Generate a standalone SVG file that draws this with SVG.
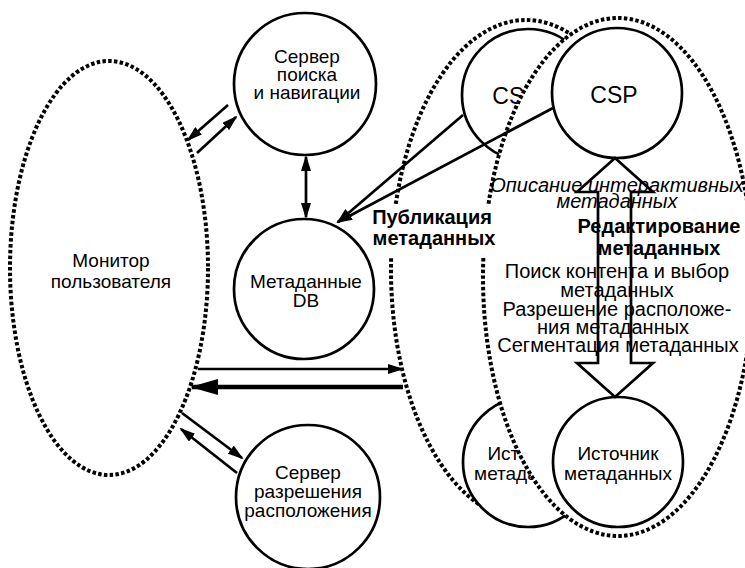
<svg xmlns="http://www.w3.org/2000/svg" width="745" height="568" viewBox="0 0 745 568">
<style>
.dot{fill:#fff;stroke:#000;stroke-width:4;stroke-dasharray:3.5 2.3}
.nd{fill:#fff;stroke:#000;stroke-width:2.7}
.ln{stroke:#000;stroke-width:2.7;fill:none}
.thick{stroke:#000;stroke-width:4.5;fill:none}
text{font-family:"Liberation Sans",Arial,sans-serif;font-size:19px;text-anchor:middle;fill:#000}
.r{font-size:20px}
.b{font-weight:bold}
.i{font-style:italic}
.big{font-size:23px}
</style>
<defs>
<marker id="ah" markerUnits="userSpaceOnUse" markerWidth="16" markerHeight="10" refX="14" refY="5" orient="auto-start-reverse">
<path d="M0,0 L16,5 L0,10 Z" fill="#000"/>
</marker>
<marker id="ahBig" markerUnits="userSpaceOnUse" markerWidth="28" markerHeight="16" refX="26" refY="8" orient="auto">
<path d="M0,0 L28,8 L0,16 Z" fill="#000"/>
</marker>
</defs>
<rect width="745" height="568" fill="#fff"/>

<g id="domain-back">
<ellipse class="dot" cx="526" cy="270" rx="135" ry="250"/>
<g id="csp-shadow">
<circle class="nd" cx="528" cy="95" r="66"/>
<text class="big" x="516" y="104">CSP</text>
</g>
<g id="source-shadow">
<circle class="nd" cx="528" cy="462" r="65"/>
<text x="528" y="460">Источник</text>
<text x="528" y="480">метаданных</text>
</g>
</g>

<g id="domain-front">
<ellipse class="dot" cx="618" cy="277" rx="135" ry="259"/>
</g>

<g id="csp">
<circle class="nd" cx="617" cy="93" r="65"/>
<text class="big" x="614" y="103">CSP</text>
</g>

<g id="source">
<circle class="nd" cx="618" cy="462" r="65"/>
<text x="618" y="460">Источник</text>
<text x="618" y="480">метаданных</text>
</g>

<g id="monitor">
<ellipse class="dot" cx="109" cy="268" rx="99" ry="207"/>
<text x="111" y="267">Монитор</text>
<text x="111" y="288">пользователя</text>
</g>

<g id="search-server">
<circle class="nd" cx="305" cy="84" r="71"/>
<text x="307" y="63">Сервер</text>
<text x="307" y="81">поиска</text>
<text x="307" y="99">и навигации</text>
</g>

<g id="metadata-db">
<circle class="nd" cx="304" cy="289" r="70"/>
<text x="306" y="288">Метаданные</text>
<text x="306" y="307">DB</text>
</g>

<g id="resolution-server">
<circle class="nd" cx="308" cy="497" r="72"/>
<text x="308" y="479">Сервер</text>
<text x="308" y="498">разрешения</text>
<text x="308" y="517">расположения</text>
</g>

<g id="connectors">
<line class="ln" x1="228" y1="105" x2="188" y2="140" marker-end="url(#ah)"/>
<line class="ln" x1="197" y1="153" x2="236" y2="117" marker-end="url(#ah)"/>
<line class="ln" x1="306" y1="157" x2="306" y2="217" marker-start="url(#ah)" marker-end="url(#ah)"/>
<line class="ln" x1="182" y1="413" x2="242" y2="458" marker-end="url(#ah)"/>
<line class="ln" x1="237" y1="473" x2="181" y2="429" marker-end="url(#ah)"/>
<line class="ln" x1="198" y1="369" x2="402" y2="369" marker-end="url(#ah)"/>
<line class="thick" x1="403" y1="387" x2="192" y2="387" marker-end="url(#ahBig)"/>
<polygon class="ln" points="615,158 653,192 631,192 631,363 653,363 615,397 577,363 598,363 598,192 577,192"/>
</g>

<g id="publication">
<rect x="370" y="204" width="127" height="52" fill="#fff"/>
<line class="ln" x1="463" y1="115" x2="338" y2="222" marker-end="url(#ah)"/>
<line class="ln" x1="553" y1="108" x2="338" y2="222" marker-end="url(#ah)"/>
<text class="r b" x="432" y="224">Публикация</text>
<text class="r b" x="434" y="245">метаданных</text>
</g>

<g id="csp-functions">
<text class="r i" x="617" y="192">Описание интерактивных</text>
<text class="r i" x="617" y="208">метаданных</text>
<text class="r b" x="659" y="233">Редактирование</text>
<text class="r b" x="659" y="255">метаданных</text>
<text class="r" x="617" y="278">Поиск контента и выбор</text>
<text class="r" x="617" y="297">метаданных</text>
<text class="r" x="617" y="316">Разрешение расположе-</text>
<text class="r" x="613" y="334">ния метаданных</text>
<text class="r" x="618" y="352">Сегментация метаданных</text>
</g>
</svg>
